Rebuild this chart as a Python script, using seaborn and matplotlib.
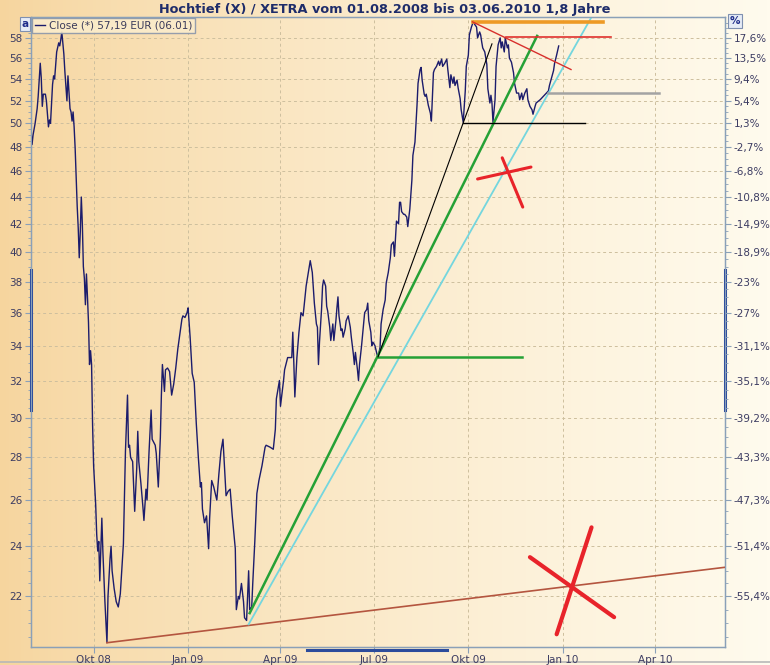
import numpy as np
import pandas as pd
import matplotlib
matplotlib.use("Agg")
import matplotlib.pyplot as plt
from matplotlib.ticker import FixedLocator, FixedFormatter, NullFormatter
import seaborn as sns

plt.rcParams["font.family"] = ["DejaVu Sans"]

# ---- data ----
start = "2008-08-01"
base_close = 49.34  # first close, reference for the % axis

# days after 01.08.2008
day = [
    0, 1, 2, 4, 6, 7, 9, 10, 11, 12,
    14, 15, 17, 18, 19, 21, 22, 23, 25, 27,
    28, 29, 30, 31, 32, 33, 35, 36, 37, 38,
    39, 40, 41, 42, 43, 44, 45, 46, 47, 48,
    49, 50, 51, 52, 53, 54, 55, 56, 57, 58,
    59, 60, 61, 63, 64, 65, 66, 67, 68, 69,
    70, 72, 74, 75, 77, 78, 79, 81, 83, 85,
    87, 90, 92, 94, 95, 96, 97, 99, 101, 103,
    104, 105, 107, 109, 110, 112, 113, 115, 117, 118,
    121, 122, 124, 126, 127, 128, 130, 131, 133, 135,
    137, 139, 141, 143, 147, 148, 150, 152, 153, 155,
    157, 159, 161, 163, 165, 166, 167, 169, 171, 173,
    174, 176, 178, 181, 183, 185, 187, 190, 192, 194,
    196, 199, 200, 202, 203, 205, 207, 208, 210, 212,
    213, 215, 216, 218, 220, 222, 225, 228, 229, 233,
    236, 238, 239, 242, 243, 246, 247, 250, 252, 254,
    255, 256, 257, 259, 261, 263, 265, 266, 268, 271,
    272, 274, 276, 278, 279, 280, 281, 283, 284, 285,
    287, 288, 289, 291, 292, 294, 295, 297, 298, 299,
    300, 302, 303, 304, 306, 307, 309, 311, 312, 314,
    315, 316, 318, 319, 320, 322, 324, 325, 327, 328,
    329, 331, 332, 333, 335, 337, 338, 340, 341, 343,
    345, 346, 348, 350, 351, 353, 354, 355, 356, 358,
    359, 360, 361, 363, 364, 366, 367, 369, 371, 372,
    374, 376, 377, 379, 380, 381, 383, 384, 385, 387,
    389, 390, 392, 393, 395, 397, 398, 400, 401, 403,
    405, 406, 408, 409, 411, 412, 413, 415, 416, 418,
    419, 421, 423, 424, 426, 427, 429, 431, 432, 434,
    435, 437, 438, 439, 440, 442, 444, 445, 447, 448,
    449, 450, 452, 453, 455, 457, 458, 459, 461, 462,
    464, 465, 466, 468, 470, 471, 473, 475, 476, 478,
    479, 481, 483, 484, 486, 488, 489, 491, 492, 496,
    499, 502, 504, 505, 507, 509, 510, 512, 514,
]
close = [
    49.34, 48.2, 49.0, 50.0, 51.3, 52.4, 55.5, 54.1, 51.5, 52.6,
    52.6, 52.0, 49.7, 50.3, 50.0, 53.5, 54.3, 54.0, 56.6, 57.5,
    57.2, 57.8, 58.6, 57.5, 56.4, 54.7, 52.0, 54.3, 52.8, 51.3,
    51.0, 50.2, 51.0, 49.7, 47.9, 45.5, 43.3, 41.7, 39.6, 41.4,
    44.0, 42.0, 39.0, 38.2, 36.5, 38.5, 37.0, 35.4, 32.9, 33.7,
    32.9, 29.6, 27.6, 25.8, 24.5, 23.8, 24.2, 22.6, 23.8, 25.2,
    23.8, 21.8, 20.3, 22.0, 23.5, 24.0, 23.0, 22.3, 21.8, 21.6,
    22.1, 24.1, 28.3, 31.2, 28.5, 28.6, 28.0, 27.8, 25.5, 27.5,
    29.3, 27.8, 26.8, 25.7, 25.1, 26.5, 26.0, 28.3, 30.4, 28.9,
    28.6, 28.2, 26.6, 29.0, 31.2, 32.9, 31.4, 32.6, 32.7, 32.5,
    31.2, 31.8, 32.7, 33.8, 35.6, 35.8, 35.7, 36.0, 36.3, 34.5,
    32.4, 31.9, 29.7, 28.0, 26.6, 26.8, 25.6, 25.0, 25.3, 23.9,
    25.2, 26.9, 26.6, 26.0, 27.2, 28.3, 28.9, 26.2, 26.4, 26.5,
    25.3, 23.9, 21.5, 22.0, 21.9, 22.5, 21.8, 21.2, 21.1, 23.0,
    21.5, 21.6, 22.5, 24.2, 26.3, 26.9, 27.6, 28.5, 28.6, 28.5,
    28.4, 29.4, 31.0, 32.0, 30.6, 32.0, 32.6, 33.3, 33.3, 33.3,
    34.8, 33.0, 31.1, 33.3, 34.8, 36.0, 35.8, 36.4, 37.7, 39.0,
    39.4, 38.6, 36.6, 35.3, 35.1, 32.9, 34.2, 36.2, 37.7, 38.1,
    37.7, 36.4, 36.1, 35.1, 34.3, 35.3, 34.3, 35.5, 36.3, 37.0,
    35.8, 34.9, 35.0, 34.5, 35.0, 35.5, 35.8, 35.1, 34.5, 33.5,
    32.9, 33.6, 32.6, 32.0, 32.9, 34.0, 35.3, 36.0, 36.2, 36.6,
    35.5, 34.8, 34.0, 34.2, 34.0, 33.5, 33.3, 33.9, 35.3, 36.2,
    36.8, 37.9, 38.6, 39.6, 40.5, 40.7, 39.7, 41.0, 42.2, 42.0,
    43.6, 43.6, 42.9, 42.7, 42.7, 42.5, 41.8, 43.1, 45.3, 47.3,
    48.4, 51.6, 53.6, 54.9, 55.1, 53.9, 52.6, 52.4, 52.6, 51.6,
    50.9, 50.2, 54.6, 54.9, 55.2, 55.7, 55.3, 55.9, 55.2, 55.5,
    55.9, 54.9, 53.2, 54.4, 53.6, 54.2, 53.4, 53.9, 53.2, 52.2,
    51.2, 50.1, 52.9, 55.2, 56.3, 58.3, 59.1, 59.7, 59.4, 59.1,
    58.0, 58.6, 58.3, 57.6, 57.0, 56.6, 55.4, 53.1, 51.8, 52.5,
    51.8, 50.1, 52.1, 55.2, 57.3, 58.0, 57.0, 57.6, 56.6, 58.0,
    57.0, 57.3, 56.0, 55.6, 54.6, 53.6, 52.7, 52.7, 52.1, 52.7,
    52.1, 52.7, 53.1, 52.1, 51.5, 51.2, 50.8, 51.5, 51.8, 52.1,
    52.4, 52.7, 52.9, 53.4, 54.1, 54.8, 55.5, 56.3, 57.19,
]

# hand drawn trend lines: start/end day, start/end price
support_days, support_px = [74, 676], [20.3, 23.14]
green_days, green_px = [213, 493], [21.37, 58.2]
green_flat_days, green_flat_px = [338, 478], [33.34, 33.34]
black_days, black_px = [338, 449], [33.34, 57.4]
black_flat_days, black_flat_px = [421, 540], [50.0, 50.0]
cyan_days, cyan_px = [212, 546], [20.96, 60.14]
orange_days, orange_px = [431, 557], [59.64, 59.64]
red_flat_days, red_flat_px = [463, 565], [58.1, 58.1]
red_diag_days, red_diag_px = [430, 526], [59.64, 54.9]
gray_days, gray_px = [504, 612], [52.7, 52.7]
# the two red crosses
cross_small = [([435, 487], [45.4, 46.35]), ([459, 479], [47.1, 43.24])]
cross_big = [([486, 568], [23.55, 21.22]), ([546, 512], [24.8, 20.6])]

price_ticks = list(range(22, 60, 2))
month_ticks = ["2008-10-01", "2009-01-01", "2009-04-01", "2009-07-01",
               "2009-10-01", "2010-01-01", "2010-04-01"]
month_labels = ["Okt 08", "Jan 09", "Apr 09", "Jul 09", "Okt 09", "Jan 10", "Apr 10"]

title = "Hochtief (X) / XETRA vom 01.08.2008 bis 03.06.2010 1,8 Jahre"
legend_label = "Close (*) 57,19 EUR (06.01)"


def to_dates(d):
    return pd.Timestamp(start) + pd.to_timedelta(d, unit="D")


df = pd.DataFrame({"date": to_dates(day), "close": close})

fig = plt.figure(figsize=(7.7, 6.65), dpi=100)

# background gradient (tan on the left, cream on the right)
bg = fig.add_axes([0, 0, 1, 1], zorder=-10)
left_c = np.array([246, 213, 158]) / 255
right_c = np.array([255, 251, 238]) / 255
t = np.linspace(0, 1, 256) ** 0.8
grad = left_c[None, :] * (1 - t[:, None]) + right_c[None, :] * t[:, None]
bg.imshow(grad[None, :, :], aspect="auto", extent=[0, 1, 0, 1])
bg.plot([0, 1], [0.004, 0.004], color="#b8b8b8", lw=1.2)
bg.set_xlim(0, 1)
bg.set_ylim(0, 1)
bg.set_axis_off()

ax = fig.add_axes([31 / 770, 18 / 665, 694 / 770, 630 / 665])
ax.set_facecolor("none")

sns.lineplot(data=df, x="date", y="close", ax=ax, color="#1c1c6c",
             linewidth=1.0, label=legend_label, zorder=3)

ax.set_yscale("log")
ax.set_ylim(20.15, 60.14)
ax.set_xlim(to_dates([0])[0], to_dates([676])[0])

ax.plot(to_dates(support_days), support_px, color="#b4553f", lw=1.2, zorder=4)
ax.plot(to_dates(cyan_days), cyan_px, color="#74d6de", lw=1.3, zorder=4)
ax.plot(to_dates(green_days), green_px, color="#25a136", lw=1.8, zorder=4)
ax.plot(to_dates(green_flat_days), green_flat_px, color="#25a136", lw=1.8, zorder=4)
ax.plot(to_dates(black_days), black_px, color="black", lw=0.8, zorder=4)
ax.plot(to_dates(black_flat_days), black_flat_px, color="black", lw=1.0, zorder=4)
ax.plot(to_dates(orange_days), orange_px, color="#ee9a25", lw=2.6, zorder=4)
ax.plot(to_dates(red_flat_days), red_flat_px, color="#e0302c", lw=1.2, zorder=4)
ax.plot(to_dates(red_diag_days), red_diag_px, color="#d8302c", lw=1.0, zorder=4)
ax.plot(to_dates(gray_days), gray_px, color="#a3a3a3", lw=1.8, zorder=4)
for d, p in cross_small:
    ax.plot(to_dates(d), p, color="#e8232a", lw=2.2, solid_capstyle="round", zorder=5)
for d, p in cross_big:
    ax.plot(to_dates(d), p, color="#e8232a", lw=3.0, solid_capstyle="round", zorder=5)

spine_c = "#8aa0b8"
label_c = "#3c3c62"

ax.yaxis.set_major_locator(FixedLocator(price_ticks))
ax.yaxis.set_major_formatter(FixedFormatter([str(p) for p in price_ticks]))
ax.yaxis.set_minor_locator(FixedLocator(np.arange(20.5, 60.0, 0.5)))
ax.yaxis.set_minor_formatter(NullFormatter())
ax.set_xticks(pd.to_datetime(month_ticks))
ax.set_xticklabels(month_labels)
ax.set_xlabel("")
ax.set_ylabel("")

ax.grid(True, which="major", color="#cdbf9e", linestyle=(0, (3, 3)), linewidth=0.7)
ax.set_axisbelow(True)
for s in ax.spines.values():
    s.set_color(spine_c)
    s.set_linewidth(1.0)
ax.tick_params(which="major", length=4, color=spine_c, labelsize=7.5,
               labelcolor=label_c, pad=2)
ax.tick_params(which="minor", length=2, color=spine_c)

# right axis with change against the first close
ax2 = ax.twinx()
ax2.set_yscale("log")
ax2.set_ylim(ax.get_ylim())
pct_labels = []
for p in price_ticks:
    s = f"{(p / base_close - 1) * 100:.1f}"
    if s.endswith(".0"):
        s = s[:-2]
    pct_labels.append(s.replace(".", ",") + "%")
ax2.yaxis.set_major_locator(FixedLocator(price_ticks))
ax2.yaxis.set_major_formatter(FixedFormatter(pct_labels))
ax2.yaxis.set_minor_locator(FixedLocator(np.arange(20.5, 60.0, 0.5)))
ax2.yaxis.set_minor_formatter(NullFormatter())
for s in ax2.spines.values():
    s.set_color(spine_c)
ax2.tick_params(which="major", length=4, color=spine_c, labelsize=7.5,
                labelcolor=label_c, pad=2)
ax2.tick_params(which="minor", length=2, color=spine_c)

# scroll markers on the axes
mark_c = "#2c4c9c"
ax.plot([0, 0], [0.376, 0.598], transform=ax.transAxes, color=mark_c, lw=2.2,
        clip_on=False, zorder=6)
ax.plot([1, 1], [0.376, 0.598], transform=ax.transAxes, color=mark_c, lw=2.2,
        clip_on=False, zorder=6)
ax.plot([0.398, 0.599], [-0.004, -0.004], transform=ax.transAxes, color=mark_c,
        lw=2.2, clip_on=False, zorder=6)

leg = ax.legend(loc="upper left", bbox_to_anchor=(0.0015, 0.999), fontsize=7.5,
                frameon=True, fancybox=False, edgecolor="#8a96aa", facecolor="#fbeccb",
                framealpha=0.9, handlelength=1.0, handletextpad=0.4,
                borderpad=0.25, borderaxespad=0.0)
leg.get_frame().set_linewidth(1.0)
for txt in leg.get_texts():
    txt.set_color("#3a3a5a")

fig.text(0.5, 0.985, title, ha="center", va="center", fontsize=9.3,
         fontweight="bold", color="#1e2c6a")
fig.text(25 / 770, 1 - 24 / 665, "a", ha="center", va="center", fontsize=7.5,
         fontweight="bold", color="#1e2c8a",
         bbox=dict(boxstyle="square,pad=0.15", fc="#e6ecf6", ec="#7f90b0", lw=0.8))
fig.text(735 / 770, 1 - 21 / 665, "%", ha="center", va="center", fontsize=7.5,
         fontweight="bold", color="#1e2c8a",
         bbox=dict(boxstyle="square,pad=0.15", fc="#e6ecf6", ec="#7f90b0", lw=0.8))

fig.savefig("out.png", dpi=100)
